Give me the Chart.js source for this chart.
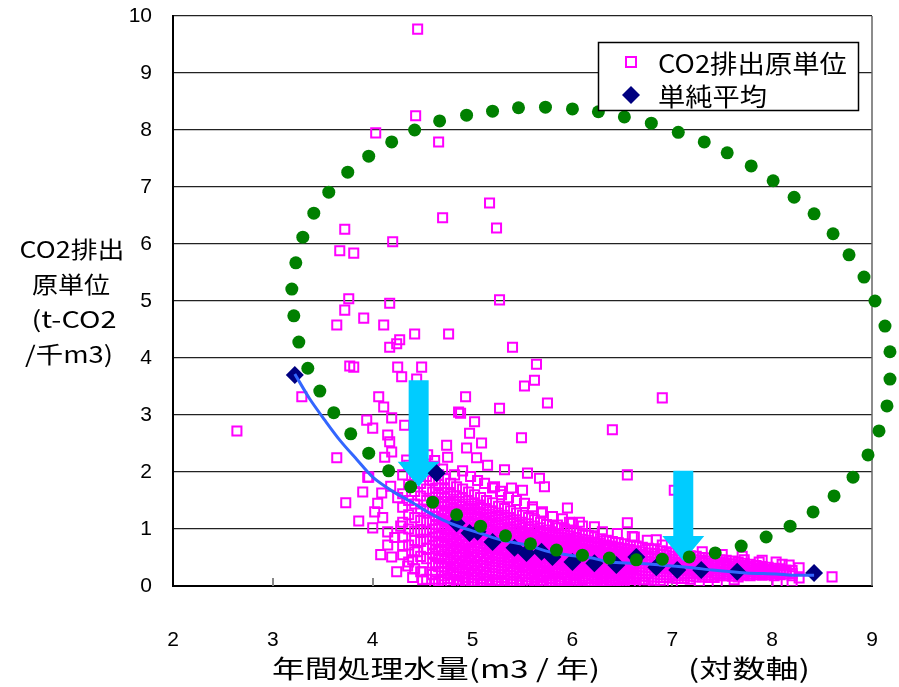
<!DOCTYPE html>
<html><head><meta charset="utf-8">
<script src="https://cdn.jsdelivr.net/npm/chart.js@4.4.0/dist/chart.umd.min.js"></script>
<style>html,body{margin:0;padding:0;background:#fff;}#wrap{width:899px;height:687px;position:relative;}</style>
</head><body><div id="wrap"><canvas id="c" width="899" height="687"></canvas></div>
<script>
// ---------- DATA ----------
const xTicks = [2,3,4,5,6,7,8,9];
const yTicks = [0,1,2,3,4,5,6,7,8,9,10];
const seriesNames = ['CO2排出原単位', '単純平均'];
const yTitleLines = ['CO2排出', '原単位', '(t-CO2', '/千m3)'];
const xTitleMain = '年間処理水量(m3 / 年)';
const xTitleNote = '(対数軸)';

// scattered CO2 intensity points (outside the dense core)
const outX = [4.45,4.03,4.43,4.66,4.70,5.17,5.24,3.72,3.67,3.81,4.20,5.27,3.76,3.72,3.64,3.91,4.17,4.11,4.17,4.24,4.27,4.42,4.76,3.77,3.81,4.25,4.29,4.44,4.49,3.29,4.06,4.11,4.93,4.86,4.88,3.94,4.19,5.27,5.40,5.64,5.52,5.62,5.75,5.49,6.40,6.90,2.64,6.55,6.55,7.02,
 4.00,4.32,4.15,4.17,5.02,4.97,5.09,4.74,4.94,5.04,4.75,4.12,4.19,4.34,5.15,5.32,5.55,5.67,5.72,5.50,5.39,5.29,5.22,3.95,3.90,4.02,4.00,4.15,4.15,4.19,4.24,4.40,4.50,5.95,5.97,5.60,5.69,5.85,6.07,6.22,6.62,6.84,3.64,3.73,3.86,3.96,4.09,4.50,
 8.60,8.27,8.04,8.17,8.27,8.20,7.87,7.72,7.97,7.62,7.27,
 4.62,4.75,4.85,5.00,5.10,5.25,5.40,5.55,5.70,5.88,6.02,6.30,6.50,6.72,7.00,7.45,8.05,
 4.82,4.90,4.98,5.05,5.12,5.20,5.28,5.36,5.44,5.52,5.60,4.70,4.62,4.55,5.70,5.80,5.90,6.00,6.10,6.30,6.45,6.60,6.75,6.90,7.10,7.30,7.50,7.70,7.90,8.10,
 4.05,4.10,4.22,4.28,4.30,4.18,4.25,4.35,4.40,4.45,4.08];
const outY = [9.77,7.95,8.25,7.79,6.46,6.72,6.28,6.26,5.88,5.84,6.04,5.02,5.04,4.84,4.58,4.70,4.96,4.58,4.19,4.25,4.32,4.42,4.42,3.86,3.84,3.84,3.67,3.63,3.84,3.32,3.32,3.14,3.32,3.05,3.03,2.91,2.95,3.12,4.19,3.89,3.51,3.61,3.21,2.60,2.74,3.30,2.72,1.95,1.11,1.68,
 2.77,2.82,2.65,2.53,2.88,2.68,2.51,2.47,2.42,2.25,2.26,2.26,2.35,2.21,2.12,2.04,1.98,1.89,1.74,1.68,1.72,1.60,1.74,1.91,1.65,1.30,1.02,0.95,0.72,0.51,0.25,0.46,0.25,1.37,1.12,1.39,1.28,1.07,1.12,1.04,0.86,0.81,2.25,1.46,1.14,1.91,1.63,0.11,
 0.16,0.14,0.42,0.37,0.32,0.07,0.42,0.46,0.28,0.11,0.07,
 0.05,0.06,0.04,0.05,0.03,0.06,0.04,0.05,0.04,0.05,0.03,0.05,0.04,0.05,0.04,0.05,0.06,
 1.95,2.02,1.92,1.85,1.80,1.72,1.66,1.55,1.50,1.45,1.35,2.05,2.20,2.30,1.30,1.22,1.18,1.10,1.05,0.95,0.92,0.87,0.80,0.72,0.68,0.60,0.55,0.52,0.45,0.38,
 1.45,1.20,0.85,1.05,0.70,1.75,1.55,0.35,0.15,0.60,0.55];

// dense core of CO2 intensity points, by column
const coreX = [4.30,4.36,4.42,4.48,4.54,4.60,4.66,4.72,4.78,4.84,4.90,4.96,5.02,5.08,5.14,5.20,5.26,5.32,5.38,5.44,5.50,5.56,5.62,5.68,5.74,5.80,5.86,5.92,5.98,6.04,6.10,6.16,6.22,6.28,6.34,6.40,6.46,6.52,6.58,6.64,6.70,6.76,6.82,6.88,6.94,7.00,7.06,7.12,7.18,7.24,7.30,7.36,7.42,7.48,7.54,7.60,7.66,7.72,7.78,7.84,7.90,7.96,8.02,8.08,8.14,8.20];
const coreY = [
 [1.95,1.62,1.38,1.12,0.86,0.55],
 [2.12,1.78,1.50,1.25,1.00,0.72,0.42],
 [1.88,1.66,1.44,1.20,0.96,0.80,0.60,0.30],
 [2.05,1.80,1.58,1.35,1.15,0.98,0.78,0.52,0.25],
 [1.92,1.70,1.50,1.32,1.12,0.95,0.82,0.66,0.48,0.12],
 [2.10,1.85,1.65,1.48,1.30,1.15,1.00,0.86,0.72,0.58,0.40,0.20],
 [1.95,1.78,1.60,1.45,1.30,1.16,1.02,0.88,0.76,0.62,0.48,0.34,0.08],
 [1.88,1.70,1.55,1.40,1.26,1.12,0.98,0.85,0.72,0.60,0.47,0.33,0.18],
 [1.80,1.62,1.48,1.35,1.22,1.08,0.95,0.82,0.70,0.58,0.45,0.32,0.20,0.07],
 [1.74,1.58,1.44,1.30,1.18,1.05,0.92,0.80,0.68,0.56,0.44,0.32,0.18,0.06],
 [1.70,1.55,1.40,1.27,1.14,1.02,0.90,0.78,0.66,0.55,0.43,0.30,0.16,0.05],
 [1.65,1.50,1.36,1.24,1.12,1.00,0.88,0.76,0.64,0.52,0.40,0.28,0.15,0.05],
 [1.60,1.46,1.33,1.20,1.08,0.96,0.84,0.72,0.61,0.50,0.38,0.26,0.14,0.04],
 [1.55,1.42,1.28,1.16,1.04,0.93,0.82,0.70,0.59,0.48,0.37,0.25,0.13,0.05],
 [1.50,1.36,1.24,1.12,1.00,0.90,0.79,0.68,0.57,0.46,0.35,0.24,0.12,0.04],
 [1.46,1.32,1.20,1.08,0.97,0.86,0.76,0.66,0.55,0.44,0.33,0.22,0.11,0.05],
 [1.40,1.28,1.16,1.05,0.94,0.84,0.74,0.63,0.53,0.42,0.32,0.21,0.10,0.04],
 [1.36,1.24,1.12,1.01,0.91,0.81,0.71,0.61,0.51,0.41,0.30,0.20,0.10,0.05],
 [1.32,1.20,1.09,0.98,0.88,0.78,0.68,0.59,0.49,0.39,0.29,0.19,0.09],
 [1.28,1.16,1.05,0.95,0.85,0.76,0.66,0.57,0.47,0.38,0.28,0.18,0.08],
 [1.24,1.12,1.02,0.92,0.82,0.73,0.64,0.55,0.46,0.36,0.27,0.17,0.07],
 [1.20,1.09,0.99,0.89,0.80,0.71,0.62,0.53,0.44,0.35,0.26,0.16,0.06],
 [1.16,1.05,0.95,0.86,0.77,0.68,0.60,0.51,0.42,0.34,0.25,0.15,0.06],
 [1.12,1.02,0.92,0.83,0.74,0.66,0.58,0.49,0.41,0.32,0.24,0.15,0.05],
 [1.08,0.98,0.89,0.80,0.72,0.64,0.56,0.48,0.40,0.31,0.23,0.14,0.05],
 [1.05,0.95,0.86,0.78,0.70,0.62,0.54,0.46,0.38,0.30,0.22,0.13,0.05],
 [1.02,0.92,0.84,0.76,0.68,0.60,0.52,0.45,0.37,0.29,0.21,0.12],
 [1.00,0.90,0.81,0.73,0.66,0.58,0.50,0.43,0.36,0.28,0.20,0.12],
 [0.98,0.88,0.78,0.71,0.64,0.56,0.49,0.42,0.34,0.27,0.19,0.11],
 [0.95,0.85,0.76,0.69,0.62,0.55,0.48,0.41,0.33,0.26,0.18,0.10],
 [0.92,0.82,0.74,0.67,0.60,0.53,0.46,0.39,0.32,0.25,0.17,0.10],
 [0.89,0.80,0.72,0.65,0.58,0.51,0.45,0.38,0.31,0.24,0.17,0.09],
 [0.86,0.77,0.70,0.63,0.56,0.50,0.43,0.37,0.30,0.23,0.16,0.09],
 [0.83,0.75,0.68,0.61,0.55,0.48,0.42,0.36,0.29,0.22,0.15,0.08],
 [0.80,0.72,0.66,0.59,0.53,0.47,0.41,0.35,0.28,0.21,0.15,0.08],
 [0.78,0.70,0.64,0.58,0.52,0.46,0.40,0.34,0.27,0.21,0.14,0.07],
 [0.76,0.68,0.62,0.56,0.50,0.44,0.38,0.32,0.26,0.20,0.13,0.07],
 [0.74,0.66,0.60,0.54,0.48,0.43,0.37,0.31,0.25,0.19,0.13,0.06],
 [0.72,0.64,0.58,0.52,0.47,0.41,0.36,0.30,0.24,0.18,0.12,0.06],
 [0.70,0.62,0.56,0.51,0.45,0.40,0.35,0.29,0.23,0.18,0.12],
 [0.68,0.60,0.55,0.49,0.44,0.39,0.34,0.28,0.23,0.17,0.11],
 [0.66,0.58,0.53,0.48,0.43,0.38,0.33,0.27,0.22,0.16,0.11],
 [0.64,0.57,0.52,0.47,0.42,0.37,0.32,0.26,0.21,0.16,0.10],
 [0.62,0.55,0.50,0.45,0.40,0.35,0.31,0.25,0.20,0.15,0.10],
 [0.60,0.54,0.49,0.44,0.39,0.34,0.30,0.25,0.20,0.15],
 [0.58,0.52,0.47,0.42,0.38,0.33,0.29,0.24,0.19,0.14],
 [0.56,0.50,0.46,0.41,0.37,0.32,0.28,0.23,0.18,0.13],
 [0.55,0.49,0.44,0.40,0.36,0.31,0.27,0.22,0.18,0.13],
 [0.53,0.48,0.43,0.39,0.35,0.30,0.26,0.22,0.17,0.12],
 [0.52,0.46,0.42,0.38,0.34,0.29,0.25,0.21,0.16],
 [0.50,0.45,0.41,0.37,0.33,0.28,0.24,0.20,0.16],
 [0.49,0.44,0.40,0.36,0.32,0.28,0.24,0.19,0.15],
 [0.47,0.42,0.38,0.35,0.31,0.27,0.23,0.19,0.15],
 [0.46,0.41,0.37,0.34,0.30,0.26,0.22,0.18],
 [0.45,0.40,0.36,0.33,0.29,0.25,0.21,0.18],
 [0.44,0.39,0.35,0.32,0.28,0.24,0.21,0.17],
 [0.42,0.37,0.34,0.30,0.27,0.23,0.20,0.16],
 [0.40,0.36,0.33,0.29,0.26,0.22,0.19],
 [0.38,0.34,0.31,0.28,0.25,0.21,0.18],
 [0.36,0.32,0.29,0.26,0.23,0.20],
 [0.34,0.31,0.28,0.25,0.22,0.19],
 [0.33,0.29,0.26,0.23,0.20],
 [0.31,0.28,0.25,0.22,0.18],
 [0.30,0.26,0.23,0.20],
 [0.28,0.25,0.21],
 [0.27,0.22,0.18]
];

// densest inner part of the core, by column
const innerX = [4.63,4.69,4.75,4.81,4.87,4.93,4.99,5.05,5.11,5.17,5.23,5.29,5.35,5.41,5.47,5.53,5.59,5.65,5.71,5.77,5.83,5.89,5.95,6.01,6.07,6.13,6.19,6.25,6.31,6.37,6.43,6.49,6.55,6.61];
const innerY = [
 [1.72,1.55,1.38,1.22,1.08,0.93,0.79,0.65,0.52,0.38,0.25,0.12],
 [1.64,1.48,1.33,1.19,1.05,0.91,0.78,0.65,0.53,0.40,0.26,0.12],
 [1.58,1.43,1.29,1.15,1.02,0.89,0.76,0.64,0.51,0.39,0.26,0.13],
 [1.52,1.38,1.24,1.11,0.99,0.86,0.74,0.62,0.50,0.38,0.25,0.12],
 [1.48,1.34,1.21,1.08,0.96,0.84,0.72,0.60,0.49,0.37,0.24,0.11],
 [1.44,1.30,1.18,1.06,0.94,0.82,0.70,0.58,0.46,0.34,0.22,0.10],
 [1.40,1.27,1.14,1.02,0.90,0.78,0.67,0.56,0.44,0.32,0.20,0.09],
 [1.36,1.23,1.10,0.98,0.87,0.76,0.65,0.54,0.43,0.31,0.19,0.09],
 [1.30,1.18,1.06,0.95,0.84,0.74,0.63,0.52,0.41,0.30,0.18,0.08],
 [1.26,1.14,1.03,0.92,0.81,0.71,0.61,0.50,0.39,0.28,0.17,0.08],
 [1.22,1.10,1.00,0.89,0.79,0.69,0.58,0.48,0.37,0.27,0.16,0.07],
 [1.18,1.07,0.96,0.86,0.76,0.66,0.56,0.46,0.36,0.25,0.15,0.07],
 [1.14,1.03,0.93,0.83,0.73,0.64,0.54,0.44,0.34,0.24,0.14],
 [1.10,1.00,0.90,0.80,0.71,0.62,0.52,0.43,0.33,0.23,0.13],
 [1.07,0.97,0.87,0.78,0.69,0.60,0.51,0.41,0.32,0.22,0.12],
 [1.04,0.94,0.85,0.76,0.67,0.58,0.49,0.40,0.31,0.21,0.11],
 [1.00,0.91,0.82,0.73,0.65,0.56,0.47,0.38,0.30,0.20,0.11],
 [0.97,0.88,0.79,0.71,0.63,0.54,0.46,0.37,0.28,0.19,0.10],
 [0.94,0.85,0.77,0.69,0.61,0.53,0.44,0.36,0.27,0.18,0.10],
 [0.91,0.83,0.75,0.67,0.59,0.51,0.43,0.35,0.26,0.18,0.09],
 [0.89,0.81,0.73,0.65,0.57,0.49,0.41,0.33,0.25,0.17,0.09],
 [0.86,0.78,0.70,0.63,0.55,0.48,0.40,0.32,0.24,0.16,0.08],
 [0.84,0.76,0.68,0.61,0.54,0.46,0.39,0.31,0.23,0.15,0.08],
 [0.81,0.74,0.66,0.59,0.52,0.45,0.38,0.30,0.22,0.14,0.07],
 [0.79,0.72,0.65,0.58,0.51,0.44,0.36,0.29,0.21,0.14,0.07],
 [0.77,0.70,0.63,0.56,0.49,0.42,0.35,0.28,0.21,0.13],
 [0.75,0.68,0.61,0.55,0.48,0.41,0.34,0.27,0.20,0.13],
 [0.73,0.66,0.60,0.53,0.47,0.40,0.33,0.26,0.19,0.12],
 [0.71,0.64,0.58,0.52,0.45,0.39,0.32,0.25,0.18,0.12],
 [0.69,0.63,0.57,0.50,0.44,0.38,0.31,0.24,0.18,0.11],
 [0.67,0.61,0.55,0.49,0.43,0.37,0.30,0.24,0.17,0.10],
 [0.65,0.59,0.53,0.47,0.42,0.36,0.29,0.23,0.16,0.10],
 [0.63,0.57,0.52,0.46,0.40,0.35,0.28,0.22,0.16],
 [0.61,0.56,0.50,0.45,0.39,0.34,0.28,0.21,0.15]
];

// simple averages (navy diamonds)
const avgX = [3.22,4.64,4.84,4.97,5.05,5.20,5.42,5.54,5.69,5.80,6.00,6.22,6.44,6.64,6.84,7.05,7.29,7.65,8.42];
const avgY = [3.70,1.98,1.10,0.93,0.95,0.77,0.67,0.58,0.60,0.51,0.42,0.40,0.37,0.51,0.33,0.28,0.28,0.25,0.23];

// blue trend curve
const trendX = [3.22,3.37,3.52,3.67,3.84,4.00,4.20,4.40,4.55,4.70,4.87,5.07,5.30,5.54,5.77,5.97,6.20,6.37,6.64,6.87,7.20,7.40,7.74,8.04,8.20,8.42];
const trendY = [3.72,3.28,2.91,2.56,2.22,1.91,1.66,1.46,1.30,1.16,1.04,0.93,0.80,0.72,0.60,0.54,0.49,0.42,0.40,0.37,0.32,0.28,0.23,0.21,0.19,0.19];

// green dotted ring
const ringX = [3.19,3.21,3.26,3.35,3.47,3.61,3.78,3.96,4.16,4.38,4.60,4.84,5.08,5.33,5.58,5.84,6.10,6.37,6.64,6.90,7.17,7.43,7.69,7.94,8.18,8.41,8.62,8.81,8.96,9.07,9.15,9.18,9.18,9.13,9.03,8.92,8.77,8.61,8.42,8.22,8.01,7.79,7.55,7.32,7.06,6.79,6.52,6.26,6.00,5.73,5.46,5.20,4.94,4.67,4.42,4.19,3.96,3.75,3.56,3.41,3.30,3.23];
const ringY = [5.21,4.74,4.28,3.82,3.42,3.04,2.67,2.33,2.02,1.74,1.47,1.25,1.05,0.88,0.74,0.63,0.54,0.49,0.46,0.47,0.51,0.58,0.70,0.86,1.05,1.30,1.58,1.91,2.30,2.72,3.16,3.63,4.11,4.56,5.00,5.42,5.81,6.18,6.53,6.82,7.11,7.37,7.60,7.79,7.96,8.12,8.23,8.32,8.37,8.40,8.39,8.33,8.26,8.16,8.00,7.79,7.54,7.26,6.91,6.54,6.12,5.67];

// cyan arrows
const arrowX = [4.46, 7.11];
const arrowTop = [3.61, 2.02];
const arrowTip = [1.74, 0.44];

// ---------- BUILD ----------
const co2Pts = [];
outX.forEach((x,i)=>co2Pts.push({x, y: outY[i]}));
coreX.forEach((x,i)=>coreY[i].forEach(y=>co2Pts.push({x, y})));
innerX.forEach((x,i)=>innerY[i].forEach(y=>co2Pts.push({x, y})));
const avgPts = avgX.map((x,i)=>({x, y: avgY[i]}));
const trendPts = trendX.map((x,i)=>({x, y: trendY[i]}));
const ringPts = ringX.map((x,i)=>({x, y: ringY[i]}));

const MAGENTA = '#FF00FF', NAVY = '#000080', GREEN = '#008000', BLUE = '#3366FF', CYAN = '#00CCFF';
const CJK = "'Noto Sans CJK JP','Noto Sans',sans-serif";
const NUMF = "'Liberation Sans Narrow','Liberation Sans',Arial,sans-serif";

function fitText(ctx, text, cx, cy, size, width) {
  ctx.font = `${size}px ${CJK}`;
  const w = ctx.measureText(text).width;
  ctx.save();
  ctx.translate(cx, cy);
  ctx.scale(width / w, 1);
  ctx.textAlign = 'center'; ctx.textBaseline = 'middle';
  ctx.fillText(text, 0, 0);
  ctx.restore();
}
function noPad(s) { s.paddingTop = 0; s.paddingBottom = 0; s.paddingLeft = 0; s.paddingRight = 0; }

const decor = {
  id: 'decor',
  beforeDatasetsDraw(chart) {
    const {ctx, chartArea: a, scales: {x}} = chart;
    ctx.save();
    ctx.strokeStyle = '#666'; ctx.lineWidth = 1.5;
    ctx.beginPath(); ctx.moveTo(a.right, a.top); ctx.lineTo(a.right, a.bottom); ctx.stroke();
    ctx.strokeStyle = '#888'; ctx.lineWidth = 2;
    xTicks.slice(1, -1).forEach(v => {
      const px = Math.round(x.getPixelForValue(v));
      ctx.beginPath(); ctx.moveTo(px, a.bottom); ctx.lineTo(px, a.bottom - 8); ctx.stroke();
    });
    ctx.restore();
  },
  afterDatasetDraw(chart, args) {
    if (args.index !== 0) return;
    const {ctx, scales: {x, y}} = chart;
    ctx.save();
    ctx.fillStyle = CYAN;
    arrowX.forEach((v, i) => {
      const cx = x.getPixelForValue(v);
      const top = y.getPixelForValue(arrowTop[i]);
      const tip = y.getPixelForValue(arrowTip[i]);
      const base = tip - 25;
      ctx.beginPath();
      ctx.moveTo(cx - 10, top); ctx.lineTo(cx + 10, top); ctx.lineTo(cx + 10, base);
      ctx.lineTo(cx + 21, base); ctx.lineTo(cx, tip); ctx.lineTo(cx - 21, base);
      ctx.lineTo(cx - 10, base); ctx.closePath(); ctx.fill();
    });
    ctx.restore();
  },
  afterDatasetsDraw(chart) {
    const {ctx} = chart;
    const meta = chart.getDatasetMeta(3);
    ctx.save();
    ctx.fillStyle = GREEN;
    meta.data.forEach(el => { ctx.beginPath(); ctx.arc(el.x, el.y, 6.5, 0, Math.PI * 2); ctx.fill(); });
    ctx.restore();
  },
  afterDraw(chart) {
    const {ctx} = chart;
    ctx.save();
    ctx.fillStyle = '#fff'; ctx.strokeStyle = '#000'; ctx.lineWidth = 1.5;
    ctx.fillRect(598, 42, 260, 68); ctx.strokeRect(598.5, 42.5, 260, 68);
    ctx.strokeStyle = MAGENTA; ctx.lineWidth = 2;
    ctx.strokeRect(626, 57, 10, 10);
    ctx.fillStyle = NAVY;
    ctx.beginPath(); ctx.moveTo(631, 86); ctx.lineTo(640, 95); ctx.lineTo(631, 104); ctx.lineTo(622, 95); ctx.closePath(); ctx.fill();
    ctx.fillStyle = '#000';
    fitText(ctx, seriesNames[0], 658 + 189 / 2, 63, 25, 189);
    fitText(ctx, seriesNames[1], 658 + 109 / 2, 96, 25, 109);
    const yW = [105, 78, 85, 88], yC = [72, 71, 74, 69];
    yTitleLines.forEach((t, i) => fitText(ctx, t, yC[i], 249 + i * 35, 23, yW[i]));
    fitText(ctx, xTitleMain, 436, 668, 25, 328);
    fitText(ctx, xTitleNote, 749, 668, 25, 122);
    ctx.restore();
  }
};

new Chart(document.getElementById('c'), {
  type: 'scatter',
  data: {
    datasets: [
      {label: seriesNames[0], data: co2Pts, pointStyle: 'rect', pointRadius: 6.4, pointBorderWidth: 2,
       borderColor: MAGENTA, backgroundColor: 'rgba(255,255,255,0)', order: 5},
      {label: seriesNames[1], data: avgPts, pointStyle: 'rectRot', pointRadius: 9, pointBorderWidth: 0,
       borderColor: NAVY, backgroundColor: NAVY, order: 4},
      {label: 'trend', data: trendPts, showLine: true, pointRadius: 0, borderColor: BLUE, borderWidth: 3,
       tension: 0.3, order: 3},
      {label: 'ring', data: ringPts, pointRadius: 0, backgroundColor: GREEN, borderColor: GREEN, order: 2}
    ]
  },
  options: {
    responsive: false, animation: false, devicePixelRatio: 1,
    layout: {autoPadding: false, padding: {top: 16, right: 27, left: 0, bottom: 0}},
    plugins: {legend: {display: false}, tooltip: {enabled: false}},
    scales: {
      x: {
        type: 'linear', min: 2, max: 9,
        afterFit: s => { s.height = 101; noPad(s); },
        afterBuildTicks: s => { s.ticks = xTicks.map(v => ({value: v})); },
        grid: {display: false},
        border: {display: true, color: '#000', width: 2},
        ticks: {color: '#000', font: {family: NUMF, size: 21}, padding: 34, maxRotation: 0}
      },
      y: {
        type: 'linear', min: 0, max: 10,
        afterFit: s => { s.width = 173; noPad(s); },
        afterBuildTicks: s => { s.ticks = yTicks.map(v => ({value: v})); },
        grid: {color: '#222', lineWidth: 1.2, drawTicks: false},
        border: {display: true, color: '#000', width: 2},
        ticks: {color: '#000', font: {family: NUMF, size: 21}, padding: 21}
      }
    }
  },
  plugins: [decor]
});
</script></body></html>
